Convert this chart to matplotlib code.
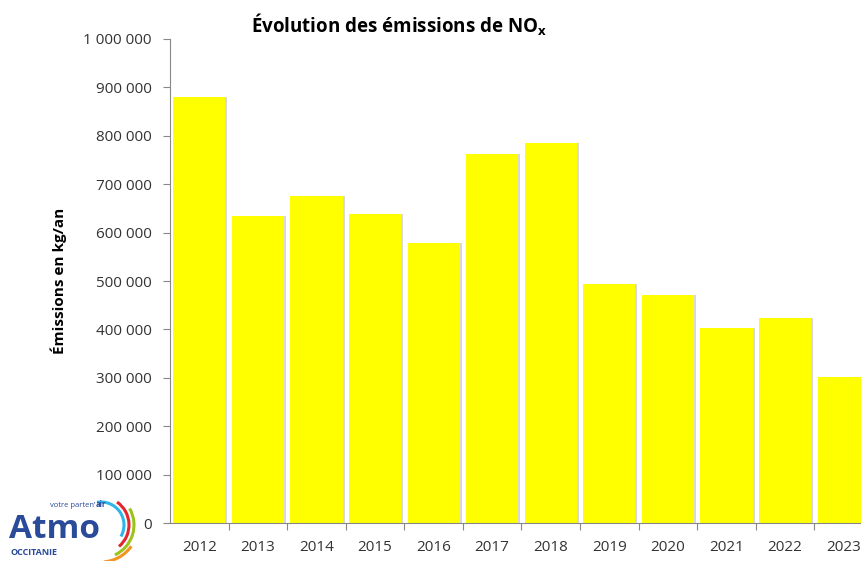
import matplotlib
matplotlib.use('Agg')
import matplotlib.pyplot as plt
from matplotlib.patches import Arc
from matplotlib.ticker import FuncFormatter, FixedLocator

years = ['2012', '2013', '2014', '2015', '2016', '2017', '2018',
         '2019', '2020', '2021', '2022', '2023']
emissions = [880000, 634000, 676000, 638000, 578000, 762000, 785000,
             494000, 471000, 403000, 424000, 302000]

plt.rcParams['font.family'] = ['Open Sans', 'DejaVu Sans']

fig = plt.figure(figsize=(8.62, 5.61), dpi=100)
ax = fig.add_axes([0.1972, 0.0677, 0.8155, 0.8628])

x = range(len(years))
# light shadow behind each bar
ax.bar([i + 0.035 for i in x], emissions, width=0.89, color='#d8d8d8', zorder=1)
ax.bar(x, emissions, width=0.89, color='#ffff00', zorder=2)

ax.set_xlim(-0.5, len(years) - 0.5)
ax.set_ylim(0, 1000000)
ax.set_yticks(range(0, 1000001, 100000))
ax.yaxis.set_major_formatter(FuncFormatter(lambda v, p: f'{int(v):,}'.replace(',', ' ')))
ax.xaxis.set_major_locator(FixedLocator([i + 0.5 for i in x]))
ax.xaxis.set_minor_locator(FixedLocator(list(x)))
ax.xaxis.set_minor_formatter(FuncFormatter(lambda v, p: years[int(round(v))]))
ax.xaxis.set_major_formatter(FuncFormatter(lambda v, p: ''))
ax.tick_params(axis='x', which='minor', length=0, labelsize=11, colors='#333333', pad=12)
ax.tick_params(axis='x', which='major', length=5, color='#888888')
ax.tick_params(axis='y', length=5, color='#888888', labelcolor='#333333', labelsize=11, pad=8)

for s in ['top', 'right']:
    ax.spines[s].set_visible(False)
for s in ['left', 'bottom']:
    ax.spines[s].set_color('#888888')

ax.set_ylabel('Émissions en kg/an', fontsize=11, fontweight='bold', labelpad=12)
fig.text(0.463, 0.955, 'Évolution des émissions de NO$_\\mathregular{x}$',
         ha='center', va='center', fontsize=13.5, fontweight='bold')

# Atmo Occitanie logo
blue = '#2a4a9a'
fig.text(0.010, 0.041, 'Atmo', fontsize=24, fontweight='bold', color=blue)
tag = fig.text(0.058, 0.097, 'votre parten’', fontsize=5.5, color=blue)
fig.canvas.draw()
fig.text(tag.get_window_extent().x1 / fig.bbox.width + 0.001, 0.097, 'air',
         fontsize=5.5, fontweight='bold', color=blue)
fig.text(0.012, 0.011, 'OCCITANIE', fontsize=6.5, fontweight='bold', color=blue)

logo = fig.add_axes([0.0, 0.0, 0.1624, 0.1266])
logo.set_xlim(0, 140)
logo.set_ylim(0, 71)
logo.set_aspect('equal')
logo.axis('off')
for r, col, t1, t2 in [(23, '#2fb5e8', -30, 100), (28, '#e3262e', -50, 55),
                       (33, '#9bc31c', -65, 30), (37, '#f39323', -85, -35)]:
    logo.add_patch(Arc((101, 36), 2 * r, 2 * r, theta1=t1, theta2=t2,
                       color=col, lw=2.2))

fig.savefig('out.png', dpi=100)
